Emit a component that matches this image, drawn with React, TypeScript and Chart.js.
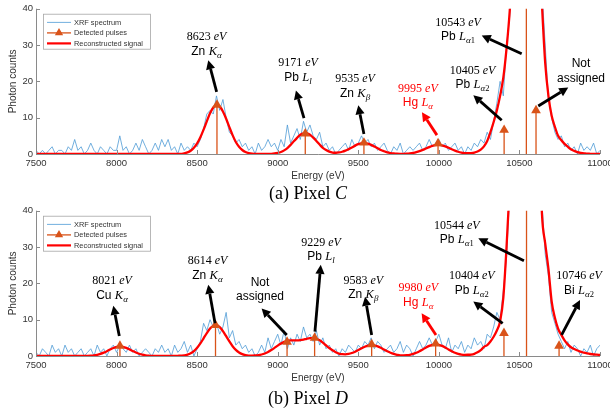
import React, { useEffect, useRef } from 'react';
import { Chart, registerables } from 'chart.js';
Chart.register(...registerables);

// ---------- data ----------
const ENERGY_START = 7500;
const ENERGY_STEP = 20;

const SPECTRUM_C = [
  1, 0, 1, 0, 1, 2, 0, 1, 1, 0,
  2, 1, 4, 1, 2, 0, 1, 3, 1, 0,
  2, 1, 0, 2, 1, 1, 5, 1, 2, 0,
  1, 3, 1, 4, 2, 0, 1, 3, 1, 4,
  2, 4, 1, 2, 0, 3, 1, 2, 1, 3,
  2, 4, 7, 11, 12, 11, 16, 12, 15, 10,
  6, 5, 3, 4, 2, 3, 1, 2, 0, 3,
  1, 2, 4, 2, 3, 1, 4, 2, 8, 3,
  5, 7, 4, 9, 6, 8, 5, 4, 6, 2,
  3, 1, 2, 0, 1, 2, 3, 1, 4, 2,
  3, 5, 3, 4, 2, 3, 1, 2, 3, 1,
  0, 2, 1, 3, 0, 1, 2, 1, 2, 3,
  1, 2, 4, 2, 3, 4, 2, 3, 1, 2,
  3, 1, 2, 0, 2, 1, 3, 2, 4, 3,
  6, 4, 9, 14, 20, 16, 30, 38, 60, 90,
  130, 170, 185, 165, 135, 95, 58, 45, 30, 15,
  10, 6, 4, 5, 2, 3, 1, 2, 0, 3,
  1, 2, 1, 3, 0, 1,
];

const RECON_C = [
  0, 0, 0, 0, 0, 0, 0, 0, 0, 0,
  0, 0, 0, 0, 0, 0, 0, 0, 0, 0,
  0, 0, 0, 0, 0, 0, 0, 0, 0, 0,
  0, 0, 0, 0, 0, 0, 0, 0, 0, 0,
  0, 0, 0, 0, 0, 0, 0.2, 0.44, 0.9, 1.7,
  2.9, 4.6, 6.7, 9.0, 11.2, 12.8, 13.5, 13.1, 11.7, 9.7,
  7.4, 5.2, 3.3, 2.0, 1.1, 0.55, 0.26, 0.1, 0.05, 0.02,
  0.02, 0.02, 0.04, 0.06, 0.14, 0.3, 0.56, 1.0, 1.65, 2.5,
  3.5, 4.45, 5.3, 5.7, 5.75, 5.3, 4.5, 3.6, 2.6, 1.7,
  1.1, 0.66, 0.4, 0.35, 0.42, 0.62, 0.93, 1.35, 1.8, 2.3,
  2.7, 2.94, 3.0, 2.84, 2.5, 2.06, 1.6, 1.1, 0.75, 0.46,
  0.27, 0.14, 0.07, 0.05, 0.05, 0.09, 0.17, 0.3, 0.5, 0.77,
  1.12, 1.52, 1.9, 2.24, 2.45, 2.5, 2.36, 2.09, 1.72, 1.31,
  0.94, 0.62, 0.4, 0.25, 0.2, 0.25, 0.4, 0.7, 1.2, 2.1,
  3.6, 6.0, 8.8, 12, 16, 21, 29, 39.5, 55, 80,
  120, 160, 180, 170, 140, 100, 60, 41, 25, 16,
  10.5, 7.5, 5.0, 3.8, 2.8, 2.0, 1.3, 0.85, 0.5, 0.3,
  0.2, 0.1, 0.05, 0, 0, 0,
];

const PULSE_E_C = [8623, 9171, 9535, 9995, 10405, 10543, 10603];
const PULSE_H_C = [13.5, 5.6, 3.1, 2.9, 6.6, 60, 12];

const SPECTRUM_D = [
  1, 0, 2, 1, 0, 3, 1, 2, 0, 3,
  1, 2, 0, 1, 2, 0, 1, 2, 0, 3,
  1, 2, 0, 2, 3, 1, 3, 2, 1, 3,
  1, 2, 0, 1, 2, 1, 0, 2, 1, 3,
  1, 2, 0, 3, 1, 2, 4, 1, 3, 0,
  2, 4, 9, 7, 10, 8, 9, 6, 8, 12,
  5, 7, 3, 4, 2, 3, 1, 2, 0, 1,
  3, 1, 5, 2, 4, 6, 3, 7, 2, 5,
  3, 6, 4, 8, 5, 6, 4, 7, 3, 5,
  2, 3, 1, 2, 0, 2, 1, 3, 2, 1,
  3, 2, 4, 3, 5, 2, 4, 3, 1, 2,
  3, 1, 2, 4, 1, 3, 2, 0, 2, 4,
  2, 3, 5, 3, 4, 6, 3, 2, 5, 1,
  3, 2, 4, 1, 3, 2, 5, 3, 4, 2,
  6, 5, 8, 12, 10, 18, 27, 45, 70, 100,
  135, 175, 195, 175, 145, 100, 70, 42, 28, 22,
  12, 9, 6, 4, 2, 4, 1, 3, 2, 0,
  2, 1, 3, 0, 2, 3,
];

const RECON_D = [
  0, 0, 0, 0, 0, 0, 0, 0, 0, 0,
  0, 0, 0, 0, 0, 0.02, 0.04, 0.09, 0.18, 0.34,
  0.59, 0.92, 1.33, 1.78, 2.19, 2.49, 2.6, 2.5, 2.23, 1.82,
  1.37, 0.96, 0.61, 0.36, 0.2, 0.1, 0.04, 0.02, 0.01, 0,
  0, 0, 0, 0, 0.05, 0.1, 0.18, 0.39, 0.76, 1.36,
  2.25, 3.45, 4.87, 6.3, 7.56, 8.33, 8.47, 7.93, 6.85, 5.45,
  4.0, 2.7, 1.68, 0.96, 0.51, 0.25, 0.13, 0.1, 0.14, 0.23,
  0.41, 0.7, 1.1, 1.63, 2.23, 2.86, 3.43, 3.88, 4.16, 4.28,
  4.3, 4.3, 4.36, 4.51, 4.73, 4.9, 4.94, 4.75, 4.32, 3.7,
  2.94, 2.2, 1.56, 1.04, 0.68, 0.49, 0.46, 0.58, 0.82, 1.17,
  1.63, 2.11, 2.55, 2.86, 3.0, 2.92, 2.66, 2.25, 1.77, 1.3,
  0.89, 0.57, 0.34, 0.19, 0.19, 0.23, 0.33, 0.56, 0.89, 1.32,
  1.81, 2.32, 2.78, 3.09, 3.2, 3.09, 2.78, 2.32, 1.81, 1.32,
  0.89, 0.58, 0.4, 0.33, 0.34, 0.4, 0.6, 1.0, 1.6, 2.5,
  3.0, 4.0, 5.3, 7.0, 9.5, 16, 30, 47, 68, 98,
  135, 175, 195, 180, 150, 105, 66, 39, 31, 24,
  15, 10.5, 7.5, 5.8, 4.3, 3.2, 2.4, 1.9, 1.5, 1.2,
  0.9, 0.7, 0.55, 0.45, 0.35, 0.3,
];

const PULSE_E_D = [8021, 8614, 9058, 9229, 9583, 9980, 10404, 10544, 10746];
const PULSE_H_D = [2.8, 8.5, 3.9, 5.0, 3.2, 3.4, 6.3, 60, 2.8];

const X_MIN = 7500;
const X_MAX = 11000;
const X_STEP = 500;
const Y_MIN = 0;
const Y_MAX = 40;
const Y_STEP = 10;

// ---------- annotations (text + arrow, in data coordinates) ----------
type Ann = {
  energy?: string; elem?: string; shell?: string; sub?: string; plain?: string[];
  red?: boolean; tx: number; ty: number; x0: number; y0: number; x1: number; y1: number;
};

const ANN_C: Ann[] = [
  { energy: '8623', elem: 'Zn', shell: 'K', sub: 'α', tx: 8558, ty: 30.4, x0: 8621, y0: 17.1, x1: 8569, y1: 25.8 },
  { energy: '9171', elem: 'Pb', shell: 'L', sub: 'l', tx: 9126, ty: 23.2, x0: 9163, y0: 9.9, x1: 9113, y1: 17.5 },
  { energy: '9535', elem: 'Zn', shell: 'K', sub: 'β', tx: 9480, ty: 18.8, x0: 9535, y0: 5.5, x1: 9500, y1: 13.4 },
  { energy: '9995', elem: 'Hg', shell: 'L', sub: 'α', red: true, tx: 9870, ty: 16.3, x0: 9988, y0: 5.2, x1: 9895, y1: 11.5 },
  { energy: '10405', elem: 'Pb', shell: 'L', sub: 'α2', tx: 10209, ty: 21.2, x0: 10390, y0: 9.3, x1: 10214, y1: 16.2 },
  { energy: '10543', elem: 'Pb', shell: 'L', sub: 'α1', tx: 10119, ty: 34.4, x0: 10514, y0: 27.6, x1: 10266, y1: 32.6 },
  { plain: ['Not', 'assigned'], tx: 10882, ty: 23.0, x0: 10617, y0: 13.2, x1: 10803, y1: 18.3 },
];

const ANN_D: Ann[] = [
  { energy: '8021', elem: 'Cu', shell: 'K', sub: 'α', tx: 7972, ty: 18.9, x0: 8017, y0: 5.5, x1: 7980, y1: 13.8 },
  { energy: '8614', elem: 'Zn', shell: 'K', sub: 'α', tx: 8564, ty: 24.4, x0: 8611, y0: 9.0, x1: 8569, y1: 19.6 },
  { plain: ['Not', 'assigned'], tx: 8890, ty: 18.4, x0: 9056, y0: 5.8, x1: 8900, y1: 13.1 },
  { energy: '9229', elem: 'Pb', shell: 'L', sub: 'l', tx: 9269, ty: 29.5, x0: 9231, y0: 6.7, x1: 9267, y1: 25.1 },
  { energy: '9583', elem: 'Zn', shell: 'K', sub: 'β', tx: 9531, ty: 19.0, x0: 9583, y0: 5.8, x1: 9542, y1: 16.3 },
  { energy: '9980', elem: 'Hg', shell: 'L', sub: 'α', red: true, tx: 9872, ty: 16.9, x0: 9982, y0: 5.8, x1: 9893, y1: 11.8 },
  { energy: '10404', elem: 'Pb', shell: 'L', sub: 'α2', tx: 10204, ty: 20.3, x0: 10396, y0: 9.0, x1: 10214, y1: 15.0 },
  { energy: '10544', elem: 'Pb', shell: 'L', sub: 'α1', tx: 10111, ty: 34.1, x0: 10528, y0: 26.2, x1: 10245, y1: 32.4 },
  { energy: '10746', elem: 'Bi', shell: 'L', sub: 'α2', tx: 10870, ty: 20.3, x0: 10762, y0: 5.8, x1: 10876, y1: 15.4 },
];

// ---------- styles ----------
const SANS = '"Liberation Sans", Arial, sans-serif';
const SERIF = '"Liberation Serif", "Times New Roman", serif';
const BLUE = '#4e9bd6';
const ORANGE = '#D95319';
const RED = '#FF0000';
const AXIS = '#8a8a8a';
const TEXT = '#333333';

type Seg = { t: string; font: string; dy?: number };

function annLines(a: Ann): Seg[][] {
  if (a.plain) return a.plain.map((t) => [{ t, font: `12px ${SANS}` }]);
  const subs: Seg[] = (a.sub || '').split('').map((ch) => ({
    t: ch,
    font: /\d/.test(ch) ? `8.5px ${SERIF}` : `italic 9px ${SERIF}`,
    dy: 3,
  }));
  return [
    [{ t: a.energy + ' ', font: `12px ${SERIF}` }, { t: 'eV', font: `italic 12px ${SERIF}` }],
    [{ t: a.elem + ' ', font: `12px ${SANS}` }, { t: a.shell || '', font: `italic 12.5px ${SERIF}` }, ...subs],
  ];
}

function drawRich(ctx: CanvasRenderingContext2D, segs: Seg[], cx: number, base: number) {
  let w = 0;
  for (const s of segs) { ctx.font = s.font; w += ctx.measureText(s.t).width; }
  let x = cx - w / 2;
  for (const s of segs) {
    ctx.font = s.font;
    ctx.fillText(s.t, x, base + (s.dy || 0));
    x += ctx.measureText(s.t).width;
  }
}

function drawArrow(ctx: CanvasRenderingContext2D, x0: number, y0: number, x1: number, y1: number, color: string) {
  const ang = Math.atan2(y1 - y0, x1 - x0);
  const L = 9, W = 4.6;
  const bx = x1 - L * Math.cos(ang), by = y1 - L * Math.sin(ang);
  ctx.strokeStyle = color;
  ctx.lineWidth = 2.8;
  ctx.lineCap = 'butt';
  ctx.beginPath(); ctx.moveTo(x0, y0); ctx.lineTo(bx, by); ctx.stroke();
  ctx.fillStyle = color;
  ctx.beginPath();
  ctx.moveTo(x1, y1);
  ctx.lineTo(bx + W * Math.sin(ang), by - W * Math.cos(ang));
  ctx.lineTo(bx - W * Math.sin(ang), by + W * Math.cos(ang));
  ctx.closePath(); ctx.fill();
}

function triangle(ctx: CanvasRenderingContext2D, x: number, y: number, r: number) {
  ctx.beginPath();
  for (let k = 0; k < 3; k++) {
    const a = (k * 2 * Math.PI) / 3;
    const px = x + Math.sin(a) * r, py = y - Math.cos(a) * r;
    if (k === 0) ctx.moveTo(px, py); else ctx.lineTo(px, py);
  }
  ctx.closePath(); ctx.fill();
}

function makeOverlay(anns: Ann[]) {
  return {
    id: 'overlay',
    afterDraw(chart: any) {
      const ctx: CanvasRenderingContext2D = chart.ctx;
      const xs = chart.scales.x, ys = chart.scales.y;
      const a = chart.chartArea;
      ctx.save();
      // axes lines
      ctx.strokeStyle = AXIS; ctx.lineWidth = 1;
      ctx.beginPath();
      ctx.moveTo(a.left + 0.5, a.top); ctx.lineTo(a.left + 0.5, a.bottom + 0.5);
      ctx.lineTo(a.right, a.bottom + 0.5);
      ctx.stroke();
      // inward ticks
      ctx.beginPath();
      for (const t of ys.ticks) {
        const y = Math.round(ys.getPixelForValue(t.value)) + 0.5;
        ctx.moveTo(a.left, y); ctx.lineTo(a.left + 4, y);
      }
      for (const t of xs.ticks) {
        const x = Math.round(xs.getPixelForValue(t.value)) + 0.5;
        ctx.moveTo(x, a.bottom); ctx.lineTo(x, a.bottom - 4);
      }
      ctx.stroke();

      // annotations
      ctx.textBaseline = 'alphabetic';
      for (const an of anns) {
        const color = an.red ? RED : '#000000';
        drawArrow(ctx, xs.getPixelForValue(an.x0), ys.getPixelForValue(an.y0),
          xs.getPixelForValue(an.x1), ys.getPixelForValue(an.y1), color);
        ctx.fillStyle = color;
        const cx = xs.getPixelForValue(an.tx), cy = ys.getPixelForValue(an.ty);
        const lines = annLines(an);
        lines.forEach((segs, i) => {
          const lc = cy + (i - (lines.length - 1) / 2) * 14.5;
          drawRich(ctx, segs, cx, lc + 4);
        });
      }

      // legend
      const bx = a.left + 7, by = a.top + 5, bw = 107, bh = 35;
      ctx.fillStyle = '#ffffff';
      ctx.fillRect(bx, by, bw, bh);
      ctx.strokeStyle = '#a6a6a6'; ctx.lineWidth = 0.8;
      ctx.strokeRect(bx + 0.5, by + 0.5, bw, bh);
      const rows = [
        { label: 'XRF spectrum', color: BLUE, w: 0.8, tri: false },
        { label: 'Detected pulses', color: ORANGE, w: 1.3, tri: true },
        { label: 'Reconstructed signal', color: RED, w: 2.2, tri: false },
      ];
      rows.forEach((r, i) => {
        const y = by + 8.7 + 10.5 * i;
        ctx.strokeStyle = r.color; ctx.lineWidth = r.w;
        ctx.beginPath(); ctx.moveTo(bx + 4, y); ctx.lineTo(bx + 28, y); ctx.stroke();
        if (r.tri) { ctx.fillStyle = r.color; triangle(ctx, bx + 16, y, 4.8); }
        ctx.fillStyle = TEXT;
        ctx.font = `7.4px ${SANS}`;
        ctx.textBaseline = 'middle';
        ctx.fillText(r.label, bx + 31, y + 0.5);
      });
      ctx.restore();
    },
  };
}

type PanelProps = {
  top: number; captionTop: number; spectrum: number[]; recon: number[];
  pulseE: number[]; pulseH: number[]; anns: Ann[]; tag: string; letter: string;
};

function Panel({ top, captionTop, spectrum, recon, pulseE, pulseH, anns, tag, letter }: PanelProps) {
  const ref = useRef<HTMLCanvasElement>(null);
  useEffect(() => {
    const energy = (i: number) => ENERGY_START + i * ENERGY_STEP;
    const stems: any[] = [];
    pulseE.forEach((e, i) => {
      stems.push({ x: e, y: 0 }, { x: e, y: pulseH[i] }, { x: e, y: null });
    });
    const chart = new Chart(ref.current as HTMLCanvasElement, {
      type: 'line',
      data: {
        datasets: [
          {
            label: 'XRF spectrum',
            data: spectrum.map((v, i) => ({ x: energy(i), y: v })),
            borderColor: BLUE, borderWidth: 0.8, pointRadius: 0, tension: 0, order: 3,
          },
          {
            label: 'Reconstructed signal',
            data: recon.map((v, i) => ({ x: energy(i), y: v })),
            borderColor: RED, borderWidth: 2.3, pointRadius: 0,
            cubicInterpolationMode: 'monotone', order: 2,
          },
          {
            label: 'stems',
            data: stems,
            borderColor: ORANGE, borderWidth: 1.3, pointRadius: 0, spanGaps: false, order: 1,
          },
          {
            type: 'scatter',
            label: 'Detected pulses',
            data: pulseE.map((e, i) => ({ x: e, y: pulseH[i] })),
            pointStyle: 'triangle', pointRadius: 5.6,
            backgroundColor: ORANGE, borderColor: ORANGE, borderWidth: 0, order: 0,
          } as any,
        ],
      } as any,
      options: {
        animation: false,
        responsive: false,
        devicePixelRatio: 1,
        events: [],
        layout: { padding: { top: 8, right: 30, left: 0, bottom: 0 } },
        plugins: { legend: { display: false }, tooltip: { enabled: false } },
        scales: {
          x: {
            type: 'linear', min: X_MIN, max: X_MAX,
            grid: { display: false, drawTicks: false },
            border: { display: false },
            ticks: {
              stepSize: X_STEP, maxRotation: 0, autoSkip: false, padding: 4,
              font: { size: 9.5, family: SANS }, color: TEXT,
              callback: (v: any) => String(v),
            },
            title: {
              display: true, text: 'Energy (eV)', color: TEXT,
              font: { size: 10, family: SANS }, padding: { top: 0, bottom: 2 },
            },
            afterFit: (s: any) => { s.height = 30; },
          },
          y: {
            type: 'linear', min: Y_MIN, max: Y_MAX,
            grid: { display: false, drawTicks: false },
            border: { display: false },
            ticks: {
              stepSize: Y_STEP, padding: 3,
              font: { size: 9.5, family: SANS }, color: TEXT,
              callback: (v: any) => String(v),
            },
            title: {
              display: true, text: 'Photon counts', color: TEXT,
              font: { size: 10, family: SANS }, padding: { top: 7, bottom: 0 },
            },
            afterFit: (s: any) => { s.width = 36; },
          },
        },
      } as any,
      plugins: [makeOverlay(anns)],
    });
    return () => chart.destroy();
  }, []);
  return (
    <>
      <canvas
        ref={ref}
        width={630}
        height={184}
        style={{ position: 'absolute', left: 0, top, width: 630, height: 184 }}
      />
      <div
        style={{
          position: 'absolute', left: 0, width: 616, top: captionTop, textAlign: 'center',
          fontFamily: SERIF, fontSize: 18, lineHeight: '18px', color: '#000',
        }}
      >
        ({tag}) Pixel <i>{letter}</i>
      </div>
    </>
  );
}

export default function App() {
  return (
    <div
      style={{
        position: 'fixed', left: 0, top: 0, width: 610, height: 408,
        overflow: 'hidden', background: '#ffffff',
      }}
    >
      <Panel top={0} captionTop={184} spectrum={SPECTRUM_C} recon={RECON_C}
        pulseE={PULSE_E_C} pulseH={PULSE_H_C} anns={ANN_C} tag="a" letter="C" />
      <Panel top={202} captionTop={389} spectrum={SPECTRUM_D} recon={RECON_D}
        pulseE={PULSE_E_D} pulseH={PULSE_H_D} anns={ANN_D} tag="b" letter="D" />
    </div>
  );
}
